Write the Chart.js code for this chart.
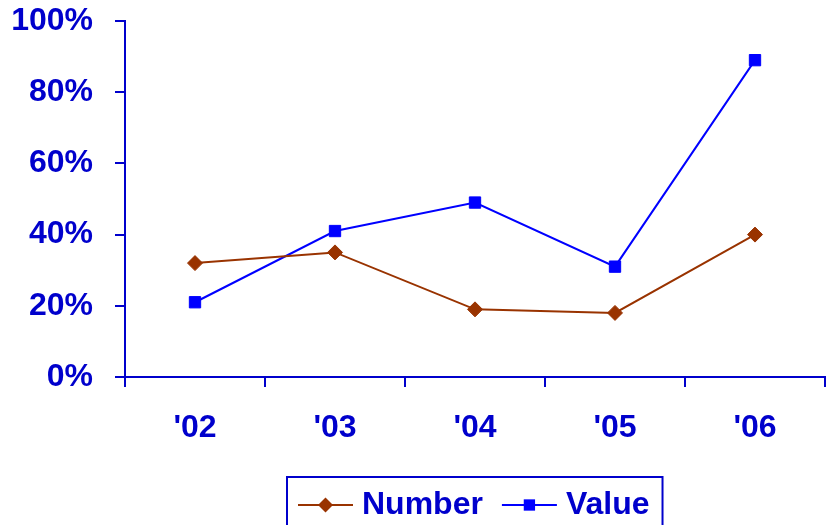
<!DOCTYPE html>
<html>
<head>
<meta charset="utf-8">
<script src="https://cdn.jsdelivr.net/npm/chart.js@4.4.0/dist/chart.umd.min.js"></script>
<style>body{margin:0;background:#fff}</style>
</head>
<body>
<canvas id="chart" width="827" height="525"></canvas>
<script>
// yearly share, in percent
const years = ["'02", "'03", "'04", "'05", "'06"];
const numberPct = [32, 35, 19, 18, 40];
const valuePct = [21, 41, 49, 31, 89];
const yMax = 100;
const yStep = 20;

const axisBlue = '#0000CC';
const fontFamily = '"Liberation Sans", Arial, sans-serif';
const labelFont = { family: fontFamily, size: 32, weight: 'bold' };

// legend in a framed box under the axis: line segment with marker, then label
const boxLegend = {
  id: 'boxLegend',
  afterDraw(chart) {
    const ctx = chart.ctx;
    const area = chart.chartArea;
    const seg = 55, markGap = 9, itemGap = 19, padL = 11, padR = 13;
    ctx.save();
    ctx.font = 'bold ' + labelFont.size + 'px ' + fontFamily;
    const items = chart.data.datasets.map(ds => ({ ds, w: ctx.measureText(ds.label).width }));
    let total = padL + padR;
    items.forEach((it, i) => { total += seg + markGap + it.w + (i ? itemGap : 0); });
    let x = Math.round((area.left + area.right) / 2 - total / 2);
    const top = 477, cy = 505;

    ctx.strokeStyle = axisBlue;
    ctx.lineWidth = 2;
    ctx.strokeRect(x, top, total, 60);
    x += padL;

    items.forEach((it, i) => {
      if (i) x += itemGap;
      const ds = it.ds;
      ctx.strokeStyle = ds.borderColor;
      ctx.lineWidth = ds.borderWidth;
      ctx.beginPath();
      ctx.moveTo(x, cy);
      ctx.lineTo(x + seg, cy);
      ctx.stroke();

      const mx = x + seg / 2, r = ds.pointRadius;
      ctx.fillStyle = ds.pointBackgroundColor;
      ctx.beginPath();
      if (ds.pointStyle === 'rectRot') {
        ctx.moveTo(mx - r, cy);
        ctx.lineTo(mx, cy - r);
        ctx.lineTo(mx + r, cy);
        ctx.lineTo(mx, cy + r);
        ctx.closePath();
      } else {
        const s = r * Math.SQRT1_2;
        ctx.rect(mx - s, cy - s, 2 * s, 2 * s);
      }
      ctx.fill();

      x += seg + markGap;
      ctx.fillStyle = axisBlue;
      ctx.textBaseline = 'middle';
      ctx.textAlign = 'left';
      ctx.fillText(ds.label, x, cy);
      x += it.w;
    });
    ctx.restore();
  }
};

new Chart(document.getElementById('chart'), {
  type: 'line',
  data: {
    labels: years,
    datasets: [
      {
        label: 'Number',
        data: numberPct,
        borderColor: '#993300',
        backgroundColor: '#993300',
        pointBackgroundColor: '#993300',
        pointBorderColor: '#993300',
        borderWidth: 2,
        pointStyle: 'rectRot',
        pointRadius: 7.5,
        pointBorderWidth: 1,
        tension: 0
      },
      {
        label: 'Value',
        data: valuePct,
        borderColor: '#0000FF',
        backgroundColor: '#0000FF',
        pointBackgroundColor: '#0000FF',
        pointBorderColor: '#0000FF',
        borderWidth: 2,
        pointStyle: 'rect',
        pointRadius: 8,
        pointBorderWidth: 1,
        tension: 0
      }
    ]
  },
  options: {
    responsive: false,
    animation: false,
    layout: { autoPadding: false, padding: { top: 21, right: 2, left: 0, bottom: 0 } },
    plugins: {
      legend: { display: false },
      tooltip: { enabled: false }
    },
    scales: {
      x: {
        offset: true,
        grid: {
          offset: true,
          drawOnChartArea: false,
          drawTicks: true,
          tickLength: 10,
          color: axisBlue,
          lineWidth: 2
        },
        border: { color: axisBlue, width: 2 },
        ticks: { font: labelFont, color: axisBlue, padding: 22, maxRotation: 0 },
        afterFit(scale) {
          scale.height = 148;
          scale.paddingLeft = 0;
          scale.paddingRight = 0;
        }
      },
      y: {
        min: 0,
        max: yMax,
        grid: {
          drawOnChartArea: false,
          drawTicks: true,
          tickLength: 10,
          color: axisBlue,
          lineWidth: 2
        },
        border: { color: axisBlue, width: 2 },
        ticks: {
          stepSize: yStep,
          font: labelFont,
          color: axisBlue,
          padding: 22,
          callback: v => v + '%'
        },
        afterFit(scale) {
          scale.width = 125;
          scale.paddingTop = 0;
          scale.paddingBottom = 0;
        }
      }
    }
  },
  plugins: [boxLegend]
});
</script>
</body>
</html>
